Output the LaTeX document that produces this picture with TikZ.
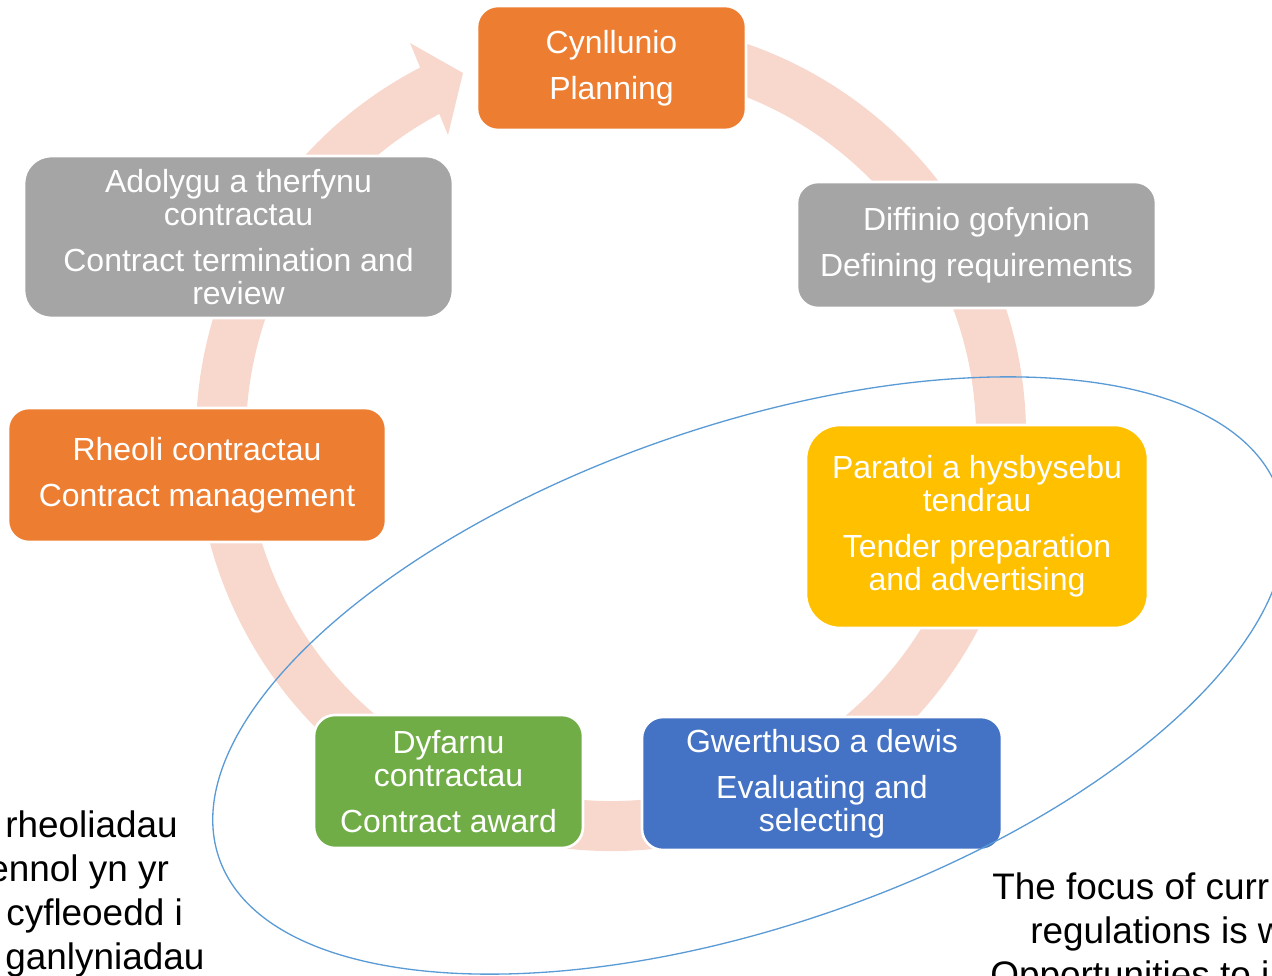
\documentclass[tikz,border=0pt]{standalone}
\usepackage{fontspec}
\setmainfont{Liberation Sans}
\definecolor{arancio}{HTML}{ED7D31}
\definecolor{grigio}{HTML}{A5A5A5}
\definecolor{giallo}{HTML}{FFC000}
\definecolor{blu}{HTML}{4472C4}
\definecolor{verde}{HTML}{70AD47}
\definecolor{rosa}{RGB}{248,215,205}
\definecolor{azzurro}{HTML}{5B9BD5}
\tikzset{
  fase/.style={draw=white, line width=1.5pt, rounded corners=0.42cm, text=white,
    align=center, font=\fontsize{18.2}{18.8}\selectfont},
  anello/.style={draw=rosa, line width=1cm},
  ellisse/.style={draw=azzurro, line width=0.75pt},
  testo/.style={inner sep=0pt, anchor=base west, font=\fontsize{21}{25}\selectfont}
}
\begin{document}
\begin{tikzpicture}
    \useasboundingbox (0,0) rectangle (25.44,19.5);
    \clip (0,0) rectangle (25.44,19.5);

    % Anello
    \coordinate (centro) at (12.22,10.78);
    \draw[anello] ([shift={(116.5:7.8)}]centro) arc[start angle=116.5, end angle=440, radius=7.8];
    \fill[rosa] (8.2,18.64) -- (9.26,18.04) -- (8.96,16.8) -- cycle;

    % Nodi
    \node[fase, fill=arancio, minimum width=5.38cm, minimum height=2.48cm] (plan) at (12.23,18.14)
      {Cynllunio\\[7.3pt]Planning};
    \node[fase, fill=grigio, minimum width=7.18cm, minimum height=2.52cm] (req) at (19.53,14.6)
      {Diffinio gofynion\\[7.3pt]Defining requirements};
    \node[fase, fill=giallo, minimum width=6.84cm, minimum height=4.06cm, rounded corners=0.68cm] (tender) at (19.54,8.97)
      {Paratoi a hysbysebu\\tendrau\\[7.3pt]Tender preparation\\and advertising};
    \node[fase, fill=blu, minimum width=7.2cm, minimum height=2.66cm] (eval) at (16.44,3.83)
      {Gwerthuso a dewis\\[7.3pt]Evaluating and\\selecting};
    \node[fase, fill=verde, minimum width=5.38cm, minimum height=2.66cm] (award) at (8.97,3.87)
      {Dyfarnu\\contractau\\[7.3pt]Contract award};
    \node[fase, fill=arancio, minimum width=7.56cm, minimum height=2.68cm] (manage) at (3.94,10.0)
      {Rheoli contractau\\[7.3pt]Contract management};
    \node[fase, fill=grigio, minimum width=8.58cm, minimum height=3.24cm, rounded corners=0.55cm] (review) at (4.77,14.76)
      {Adolygu a therfynu\\contractau\\[7.3pt]Contract termination and\\review};

    % Ellisse
    \draw[ellisse, rotate around={19:(14.98,5.99)}] (14.98,5.99) ellipse[x radius=11.21, y radius=5.0];

    % Testo a sinistra
    \node[testo] (sx1) at (0.1,2.76) {rheoliadau};
    \node[testo] (sx2) at (-0.24,1.88) {ennol yn yr};
    \node[testo] (sx3) at (0.12,1.0) {cyfleoedd i};
    \node[testo] (sx4) at (0.1,0.12) {ganlyniadau};

    % Testo a destra
    \node[testo] (dx1) at (19.84,1.52) {The focus of curr};
    \node[testo] (dx2) at (20.6,0.64) {regulations is w};
    \node[testo] (dx3) at (19.8,-0.24) {Opportunities to i};
  \end{tikzpicture}
\end{document}
